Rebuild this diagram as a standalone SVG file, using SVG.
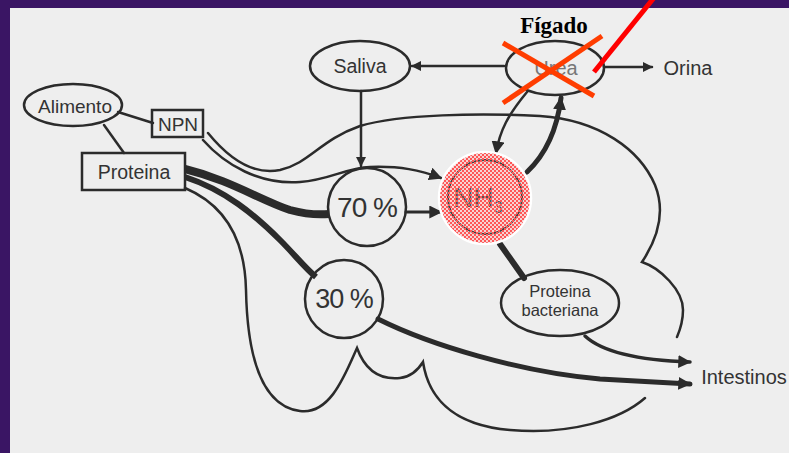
<svg xmlns="http://www.w3.org/2000/svg" width="789" height="453" viewBox="0 0 789 453">
<style>
.ln{fill:none;stroke:#2b2b2b;stroke-width:2.5;stroke-linecap:round}
.nd{fill:none;stroke:#2b2b2b;stroke-width:2.5}
.tx{font-family:"Liberation Sans",Arial,sans-serif;fill:#333;text-anchor:middle}
.red{stroke:#ff3d00;stroke-width:5;stroke-linecap:butt}
</style>
<defs>
<marker id="ah" viewBox="0 0 10 10" refX="9" refY="5" markerWidth="10" markerHeight="10" markerUnits="userSpaceOnUse" orient="auto">
<path d="M0,0 L10,5 L0,10 z" fill="#2b2b2b"/>
</marker>
<marker id="ahb" viewBox="0 0 10 10" refX="9" refY="5" markerWidth="13" markerHeight="13" markerUnits="userSpaceOnUse" orient="auto">
<path d="M0,0 L10,5 L0,10 z" fill="#2b2b2b"/>
</marker>
<pattern id="chk" width="4" height="4" patternUnits="userSpaceOnUse">
<rect x="0" y="0" width="2" height="2" fill="#ff5656"/>
<rect x="2" y="2" width="2" height="2" fill="#ff5656"/>
</pattern>
</defs>
<rect width="789" height="453" fill="#3a1564"/>
<rect x="10" y="8" width="779" height="445" fill="#eeeeee"/>

<g id="connectors">
<path class="ln" d="M118,112 L153,123"/>
<path class="ln" d="M104,125 L124,153"/>
<path class="ln" d="M504,66 L412,66" marker-end="url(#ah)"/>
<path class="ln" d="M604,67 L652,67" marker-end="url(#ah)"/>
<path class="ln" d="M361,91 L361,166" marker-end="url(#ah)"/>
<path class="ln" d="M527,92 C508,115 500,130 496,153" marker-end="url(#ahb)"/>
<path class="ln" style="stroke-width:5" d="M527,172 C545,155 557,130 561,98" marker-end="url(#ahb)"/>
<path class="ln" d="M203,140 C225,165 260,185 300,182 C330,180 345,168 370,167 C400,166 420,170 441,178" marker-end="url(#ahb)"/>
<path class="ln" d="M208,133 C230,160 255,175 280,170 C310,163 320,140 360,126 C400,114 480,113 540,116 C600,120 640,150 655,185 C665,210 660,235 642,262 C660,268 683,290 683,310 C683,322 680,330 677,337"/>
<path class="ln" d="M185,188 C225,205 245,240 246,290 C247,340 255,405 300,411 C330,415 345,375 357,348 C365,370 380,380 400,378 C410,377 418,370 423,362 C428,395 450,425 510,430 C570,435 620,420 645,398"/>
<path class="ln" style="stroke-width:8;stroke-linecap:butt" d="M185,169 C230,180 260,200 290,210 C305,214 318,215 329,214"/>
<path class="ln" style="stroke-width:6;stroke-linecap:butt" d="M185,177 C225,190 255,215 280,240 C295,255 305,268 316,277"/>
<path class="ln" style="stroke-width:5" d="M378,319 C430,345 520,372 600,379 L690,384" marker-end="url(#ahb)"/>
<path class="ln" style="stroke-width:3.5" d="M585,336 C600,350 630,360 690,362" marker-end="url(#ahb)"/>
<path class="ln" style="stroke-width:3" d="M406,212 L441,212" marker-end="url(#ahb)"/>
<path class="ln" style="stroke-width:6" d="M500,244 L524,278"/>
</g>

<g id="alimento">
<ellipse class="nd" cx="73" cy="105" rx="49" ry="21" fill="#eeeeee"/>
<text class="tx" x="75" y="113" font-size="19">Alimento</text>
</g>
<g id="npn">
<rect class="nd" x="152" y="110" width="51" height="27" fill="#eeeeee"/>
<text class="tx" x="178" y="131" font-size="19">NPN</text>
</g>
<g id="proteina">
<rect class="nd" x="82" y="153" width="103" height="37" fill="#eeeeee"/>
<text class="tx" x="134" y="179" font-size="19.5">Proteina</text>
</g>
<g id="saliva">
<ellipse class="nd" cx="360" cy="66" rx="50" ry="25" fill="#eeeeee"/>
<text class="tx" x="360" y="73" font-size="19.5">Saliva</text>
</g>
<g id="urea">
<ellipse class="nd" cx="555" cy="68" rx="49" ry="27" fill="#eeeeee"/>
<text class="tx" x="556" y="75" font-size="20" style="fill:#777">Urea</text>
</g>
<g id="orina">
<text class="tx" x="688" y="75" font-size="20">Orina</text>
</g>
<g id="n70">
<circle class="nd" cx="367" cy="207" r="39" fill="#eeeeee"/>
<text class="tx" x="367" y="217" font-size="28" letter-spacing="-1">70 %</text>
</g>
<g id="n30">
<circle class="nd" cx="344" cy="299" r="39" fill="#eeeeee"/>
<text class="tx" x="344" y="308" font-size="27" letter-spacing="-1">30 %</text>
</g>
<g id="nh3">
<circle cx="485" cy="198" r="46" fill="#f6d4d4" stroke="#ffffff" stroke-width="2.5"/>
<circle cx="485" cy="197" r="37" fill="none" stroke="#444" stroke-width="2"/>
<text x="478" y="207" font-family="'Liberation Sans',Arial,sans-serif" font-size="28" fill="#555" text-anchor="middle">NH<tspan font-size="16" dy="6">3</tspan></text>
<circle cx="485" cy="198" r="45" fill="url(#chk)"/>
</g>
<g id="bacteriana">
<ellipse class="nd" cx="560" cy="303" rx="59" ry="33" fill="#eeeeee"/>
<text class="tx" x="560" y="297" font-size="16.5">Proteina</text>
<text class="tx" x="560" y="316" font-size="16.5">bacteriana</text>
</g>
<g id="intestinos">
<text class="tx" x="744" y="384" font-size="20">Intestinos</text>
</g>
<g id="figado">
<text x="554" y="33" font-family="'Liberation Serif','Times New Roman',serif" font-weight="bold" font-size="23" fill="#000" text-anchor="middle">Fígado</text>
</g>
<g id="marks">
<line class="red" x1="503" y1="43" x2="594" y2="96"/>
<line class="red" x1="602" y1="36" x2="503" y2="103"/>
<line x1="594" y1="72" x2="657" y2="-6" stroke="#ff0000" stroke-width="5"/>
</g>
</svg>
